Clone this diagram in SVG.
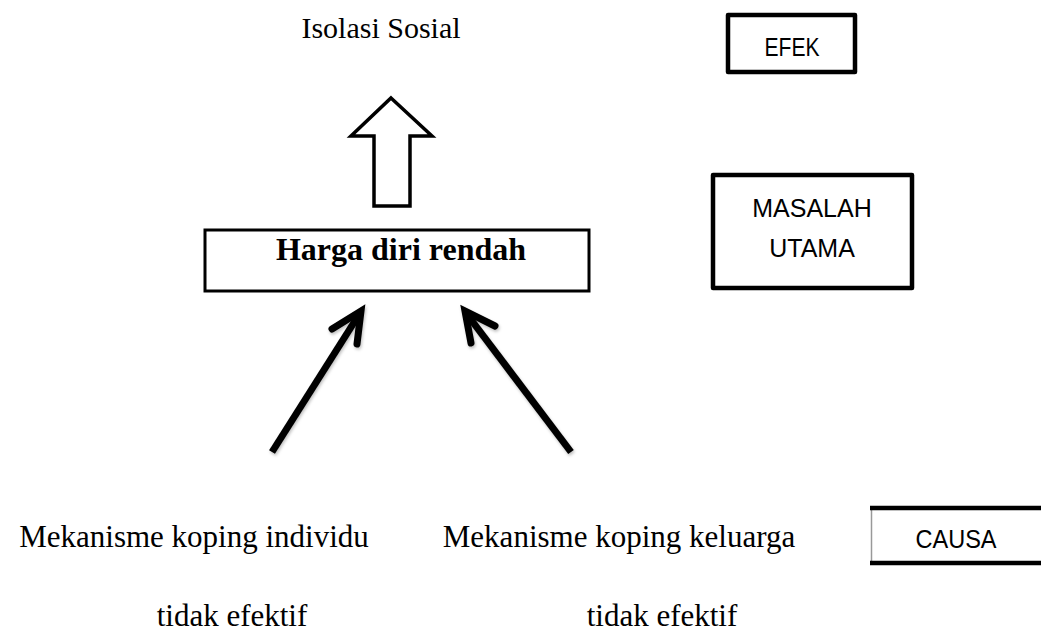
<svg xmlns="http://www.w3.org/2000/svg" width="1041" height="633" viewBox="0 0 1041 633">
<style>
.serif{font-family:"Liberation Serif","Times New Roman",serif;fill:#000}
.sans{font-family:"Liberation Sans",Arial,sans-serif;fill:#000;font-size:25px}
.box{fill:#fff;stroke:#000;stroke-width:4.5;stroke-linejoin:round}
.thin{fill:#fff;stroke:#000;stroke-width:3}
.edge{fill:none;stroke:#000;stroke-width:4.5}
.shaft{fill:none;stroke:#000;stroke-width:7;stroke-linecap:butt}
.head{fill:none;stroke:#000;stroke-width:7;stroke-linecap:round;stroke-linejoin:miter}
</style>
<defs>
<filter id="sh" x="-20%" y="-20%" width="140%" height="140%">
<feDropShadow dx="1" dy="2" stdDeviation="1.5" flood-color="#000" flood-opacity="0.25"/>
</filter>
</defs>
<rect width="1041" height="633" fill="#fff"/>
<g id="isolasi">
<text class="serif" x="381" y="38" font-size="30" text-anchor="middle">Isolasi Sosial</text>
</g>
<g id="efek">
<rect class="box" x="728" y="15" width="127" height="57"/>
<text class="sans" x="792" y="56" text-anchor="middle" textLength="55" lengthAdjust="spacingAndGlyphs">EFEK</text>
</g>
<g id="masalah">
<rect class="box" x="713" y="175" width="199" height="113"/>
<text class="sans" x="812" y="217" text-anchor="middle">MASALAH</text>
<text class="sans" x="812" y="257" text-anchor="middle">UTAMA</text>
</g>
<g id="harga">
<rect class="thin" x="205" y="230" width="384" height="61"/>
<text class="serif" x="401" y="260" font-size="32" font-weight="bold" text-anchor="middle">Harga diri rendah</text>
</g>
<g id="causa">
<line x1="871.5" y1="508" x2="871.5" y2="563" stroke="#999" stroke-width="1.5"/>
<line class="edge" x1="870" y1="508" x2="1041" y2="508"/>
<line class="edge" x1="870" y1="563" x2="1041" y2="563"/>
<text class="sans" x="956" y="548" text-anchor="middle" textLength="81" lengthAdjust="spacingAndGlyphs">CAUSA</text>
</g>
<g id="individu">
<text class="serif" x="194" y="547" font-size="31" text-anchor="middle">Mekanisme koping individu</text>
<text class="serif" x="232" y="626" font-size="31" text-anchor="middle">tidak efektif</text>
</g>
<g id="keluarga">
<text class="serif" x="619" y="547" font-size="31" text-anchor="middle">Mekanisme koping keluarga</text>
<text class="serif" x="662" y="626" font-size="31" text-anchor="middle">tidak efektif</text>
</g>
<g id="connectors">
<polygon points="391,98 432,136 410,136 410,206 374,206 374,136 351,136" fill="#fff" stroke="#000" stroke-width="3.5" stroke-linejoin="miter"/>
<g filter="url(#sh)">
<path class="shaft" d="M272,452 L360,313"/>
<path class="head" d="M332,329 L361,311 L357,344"/>
<path class="shaft" d="M571,452 L466,313"/>
<path class="head" d="M495,326 L465,311 L471,343"/>
</g>
</g>
</svg>
